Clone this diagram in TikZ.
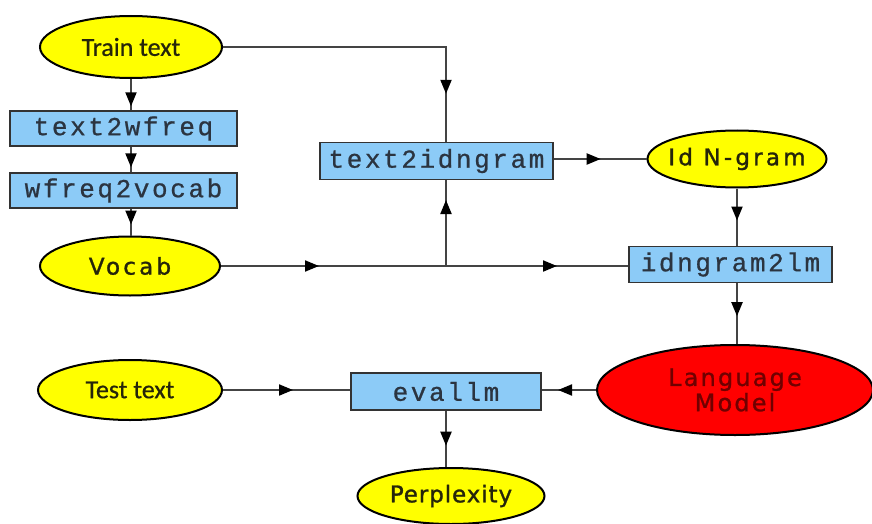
\documentclass[tikz,border=0pt]{standalone}
\usepackage{fontspec}
\setmainfont{Liberation Sans}
\newfontfamily\calibfont{Carlito}[FakeBold=0.6]
\newfontfamily\widefont{DejaVu Sans}[LetterSpace=14,FakeBold=1.2]
\newfontfamily\narrowfont{DejaVu Sans}[LetterSpace=4,FakeBold=1.2]
\newfontfamily\modelfont{DejaVu Sans}[LetterSpace=9,FakeBold=1]
\newfontfamily\codefont{Liberation Mono}[LetterSpace=10,FakeBold=0.8]
\usetikzlibrary{shapes.geometric,arrows.meta,decorations.markings}

% text set in a zero-width box, so the ellipse keeps its given size
\newcommand\flatlabel[1]{\makebox[0pt][c]{#1}}

\definecolor{boxblue}{HTML}{8CCBF7}
\definecolor{ovalyellow}{HTML}{FFFF00}
\definecolor{lmred}{HTML}{FF0000}
\definecolor{lmtext}{HTML}{700000}
\definecolor{wirecol}{HTML}{444444}
\definecolor{codetext}{HTML}{2B3440}
\definecolor{ovaltext}{HTML}{25250A}

\tikzset{
  oval/.style={ellipse, draw=black, line width=1pt, fill=ovalyellow, inner sep=0pt,
    text=ovaltext, font=\widefont\fontsize{11.5}{11.5}\selectfont},
  ovalcal/.style={oval, font=\calibfont\fontsize{13}{13}\selectfont},
  prog/.style={rectangle, draw=black!80, line width=0.7pt, fill=boxblue, inner sep=0pt,
    text=codetext, font=\codefont\fontsize{13}{13}\selectfont},
  wire/.style={draw=wirecol, line width=1pt},
  tipat/.style={postaction={decorate, decoration={markings,
    mark=at position #1 with {\arrow[black]{Triangle[length=7pt,width=5.5pt]}}}}},
}

\begin{document}
\begin{tikzpicture}[x=0.5pt, y=-0.5pt]
  \useasboundingbox (0,0) rectangle (872,524);

  % training pipeline nodes
  \node[ovalcal, minimum width=91pt, minimum height=31pt] (train) at (131,47) {\flatlabel{Train text}};
  \node[prog, minimum width=113.5pt, minimum height=17.5pt] (t2w) at (123.5,128.5) {text2wfreq};
  \node[prog, minimum width=113.5pt, minimum height=17.5pt] (w2v) at (123.5,190.5) {wfreq2vocab};
  \node[oval, minimum width=90pt, minimum height=29.5pt] (vocab) at (130,266) {\flatlabel{Vocab}};
  \node[prog, minimum width=116.5pt, minimum height=18.5pt] (t2i) at (436.5,161) {text2idngram};
  \node[oval, minimum width=89.5pt, minimum height=28.5pt] (idn) at (737,159) {\flatlabel{Id N-gram}};
  \node[prog, minimum width=101.5pt, minimum height=18pt] (i2l) at (730.5,264.5) {idngram2lm};
  \node[oval, fill=lmred, text=lmtext, minimum width=138pt, minimum height=45pt,
        align=center, font=\modelfont\fontsize{12}{10.5}\selectfont] (lm) at (735,390) {Language\\Model};

  % evaluation nodes
  \node[ovalcal, minimum width=92pt, minimum height=30pt] (test) at (130,390) {\flatlabel{Test text}};
  \node[prog, minimum width=95pt, minimum height=18.5pt] (eval) at (446,391.5) {evallm};
  \node[oval, minimum width=93.5pt, minimum height=28pt,
        font=\narrowfont\fontsize{11.5}{11.5}\selectfont] (perp) at (451,496) {\flatlabel{Perplexity}};

  \coordinate (jn) at (446,266);

  % connectors with arrow heads placed along the lines
  \draw[wire, tipat=-2pt] (train.south) -- (train.south |- t2w.north);
  \draw[wire, tipat=-2.5pt] (train.south |- t2w.south) -- (train.south |- w2v.north);
  \draw[wire, tipat=-5.5pt] (train.south |- w2v.south) -- (train.south |- vocab.north);
  \draw[wire, tipat=-24pt] (train.east) -| (jn |- t2i.north);
  \draw[wire, tipat=49pt] (vocab.east) -- (jn);
  \draw[wire, tipat=55.5pt] (jn) -- (jn -| i2l.west);
  \draw[wire, tipat=33pt] (jn) -- (jn |- t2i.south);
  \draw[wire, tipat=23.5pt] (t2i.east |- idn.west) -- (idn.west);
  \draw[wire, tipat=16pt] (idn.south) -- (idn.south |- i2l.north);
  \draw[wire, tipat=16.5pt] (idn.south |- i2l.south) -- (idn.south |- lm.north);
  \draw[wire, tipat=19pt] (lm.west) -- (lm.west -| eval.east);
  \draw[wire, tipat=35pt] (test.east) -- (test.east -| eval.west);
  \draw[wire, tipat=17.5pt] (eval.south) -- (eval.south |- perp.north);
\end{tikzpicture}
\end{document}
